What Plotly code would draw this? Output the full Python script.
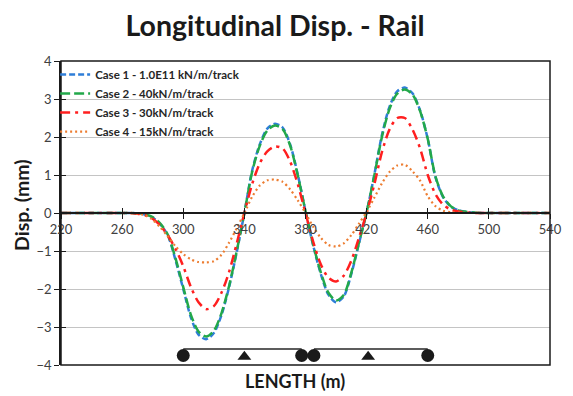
import plotly.graph_objects as go

# ---------------- data ----------------
length_m = [220, 225, 230, 235, 240, 245, 250, 255, 260, 265, 270, 275, 280, 285, 290, 295,
            300, 305, 310, 315, 320, 325, 330, 335, 340, 345, 350, 355, 360, 365, 370, 375,
            380, 385, 390, 395, 400, 405, 410, 415, 420, 425, 430, 435, 440, 445, 450, 455,
            460, 465, 470, 475, 480, 485, 490, 495, 500, 505, 510, 515, 520, 525, 530, 535, 540]

case1 = [0, 0, 0, 0, 0, 0, 0, 0, 0, 0, -0.01, -0.04, -0.12, -0.3, -0.6, -1.25,
         -2.0, -2.75, -3.2, -3.32, -3.16, -2.69, -1.95, -1.03, 0.0, 1.1, 1.8, 2.22,
         2.35, 2.25, 1.8, 1.0, 0.05, -0.85, -1.6, -2.15, -2.35, -2.2, -1.6, -0.8,
         0.02, 1.0, 2.05, 2.8, 3.2, 3.3, 3.15, 2.7, 1.95, 0.95, 0.42, 0.17, 0.07,
         0.03, 0.01, 0, 0, 0, 0, 0, 0, 0, 0, 0, 0]

case2 = [0, 0, 0, 0, 0, 0, 0, 0, 0, 0, -0.01, -0.04, -0.11, -0.28, -0.58, -1.2,
         -1.95, -2.68, -3.12, -3.25, -3.1, -2.64, -1.92, -1.0, 0.0, 1.07, 1.76, 2.17,
         2.3, 2.21, 1.77, 0.98, 0.05, -0.83, -1.56, -2.1, -2.3, -2.16, -1.57, -0.78,
         0.02, 0.98, 2.0, 2.74, 3.14, 3.25, 3.12, 2.68, 1.95, 0.97, 0.44, 0.18, 0.07,
         0.03, 0.01, 0, 0, 0, 0, 0, 0, 0, 0, 0, 0]

case3 = [0, 0, 0, 0, 0, 0, 0, 0, 0, 0, -0.02, -0.06, -0.15, -0.33, -0.6, -0.95,
         -1.4, -1.95, -2.35, -2.53, -2.45, -2.1, -1.55, -0.8, 0.0, 0.75, 1.3, 1.62,
         1.75, 1.7, 1.35, 0.75, 0.0, -0.75, -1.35, -1.7, -1.8, -1.65, -1.25, -0.65,
         0.0, 0.75, 1.6, 2.2, 2.5, 2.5, 2.2, 1.7, 1.0, 0.5, 0.22, 0.09, 0.04,
         0.02, 0.0, 0, 0, 0, 0, 0, 0, 0, 0, 0, 0]

case4 = [0, 0, 0, 0, 0, 0, 0, 0, 0, 0, -0.02, -0.06, -0.18, -0.38, -0.62, -0.88,
         -1.08, -1.22, -1.29, -1.3, -1.27, -1.1, -0.78, -0.4, 0.0, 0.42, 0.72, 0.86,
         0.88, 0.82, 0.62, 0.33, 0.0, -0.36, -0.65, -0.84, -0.88, -0.8, -0.58, -0.28,
         0.03, 0.4, 0.78, 1.08, 1.25, 1.27, 1.1, 0.85, 0.44, 0.18, 0.06, 0.02, 0.01,
         0.0, 0, 0, 0, 0, 0, 0, 0, 0, 0, 0, 0]

series_names = ["Case 1 - 1.0E11 kN/m/track", "Case 2 - 40kN/m/track",
                "Case 3 - 30kN/m/track", "Case 4 - 15kN/m/track"]

x_ticks = [220, 260, 300, 340, 380, 420, 460, 500, 540]
y_ticks = [-4, -3, -2, -1, 0, 1, 2, 3, 4]

# bridge supports drawn under the chart
bearing_x = [300, 377.5, 385.5, 460]
bearing_y = [-3.75, -3.75, -3.75, -3.75]
pier_x = [340, 421]
pier_y = [-3.78, -3.78]
deck_x = [300, 377.5, None, 385.5, 460]
deck_y = [-3.58, -3.58, None, -3.58, -3.58]

# ---------------- figure ----------------
FONT = "Lato"
colors = ["#2F7ED8", "#22A84A", "#FF1F1F", "#ED7D31"]
dashes = ["6px,3px", "10px,4px", "10px,5px,3px,5px", "2px,3px"]
widths = [2.5, 2.5, 2.5, 2.2]
ys = [case1, case2, case3, case4]

fig = go.Figure()
for name, yv, c, d, w in zip(series_names, ys, colors, dashes, widths):
    fig.add_trace(go.Scatter(x=length_m, y=yv, mode="lines", name="<b>" + name + "</b>",
                             line=dict(color=c, dash=d, width=w, shape="spline", smoothing=0.8)))

fig.add_trace(go.Scatter(x=deck_x, y=deck_y, mode="lines", showlegend=False,
                         line=dict(color="#262626", width=1.5), xaxis="x2", yaxis="y2"))
fig.add_trace(go.Scatter(x=bearing_x, y=bearing_y, mode="markers", showlegend=False,
                         marker=dict(symbol="circle", size=13, color="#1a1a1a"), xaxis="x2", yaxis="y2"))
fig.add_trace(go.Scatter(x=pier_x, y=pier_y, mode="markers", showlegend=False,
                         marker=dict(symbol="triangle-up", size=12, color="#1a1a1a"), xaxis="x2", yaxis="y2"))

tickfont = dict(family=FONT, size=13, color="#404040")

# the page body has an 8px margin, so the figure is drawn 8px in from the corner
W, H = 565, 388
fig.update_layout(
    width=W, height=H,
    margin=dict(l=53, r=11, t=53, b=31),
    paper_bgcolor="white", plot_bgcolor="white",
    showlegend=True,
    title=dict(text="<b>Longitudinal Disp. - Rail</b>", x=(275 - 8) / W, xref="container", xanchor="center",
               y=1 - (26 - 8) / H, yref="container", yanchor="middle",
               font=dict(family=FONT, size=28.5, color="#1a1a1a")),
    xaxis=dict(range=[220, 540], tickvals=x_ticks, ticktext=[str(v) for v in x_ticks],
               anchor="free", position=0.5, showline=True, linecolor="#1a1a1a", linewidth=1.5,
               ticks="outside", ticklen=5, tickwidth=1.2, tickcolor="#1a1a1a",
               showgrid=False, zeroline=False, tickfont=tickfont, ticklabeloverflow="allow"),
    xaxis2=dict(range=[220, 540], matches="x", overlaying="x", anchor="free", position=0.5,
                tickvals=x_ticks, showticklabels=False, ticks="inside", ticklen=5,
                tickwidth=1.2, tickcolor="#1a1a1a", showgrid=False, zeroline=False, showline=False),
    yaxis=dict(range=[-4, 4], tickvals=y_ticks, showline=True, linecolor="#1a1a1a", linewidth=1.5,
               ticks="outside", ticklen=5, tickwidth=1.2, tickcolor="#1a1a1a",
               showgrid=True, gridcolor="#C4C4C4", gridwidth=1, zeroline=False, tickfont=tickfont),
    yaxis2=dict(range=[-4, 4], matches="y", overlaying="y", anchor="x", tickvals=y_ticks,
                showticklabels=False, ticks="inside", ticklen=5, tickwidth=1.2, tickcolor="#1a1a1a",
                showgrid=False, zeroline=False, showline=False),
    legend=dict(x=-0.012, y=1.003, xanchor="left", yanchor="top", bgcolor="rgba(255,255,255,0)",
                font=dict(family=FONT, size=11.5, color="#262626"), tracegroupgap=0),
    shapes=[
        dict(type="rect", xref="paper", yref="paper", x0=0.004, x1=0.372, y0=0.76, y1=0.995,
             fillcolor="white", line=dict(width=0), layer="between"),
        dict(type="rect", xref="paper", yref="paper", x0=0, x1=1, y0=0, y1=1,
             line=dict(color="#1a1a1a", width=1.5), layer="above"),
    ],
    annotations=[
        dict(text="<b>Disp. (mm)</b>", xref="paper", yref="paper", x=(20 - 61) / 501, y=(213 - 205) / 304 + 0.5,
             textangle=-90, showarrow=False, xanchor="center", yanchor="middle",
             font=dict(family=FONT, size=19.5, color="#1a1a1a")),
        dict(text="<b>LENGTH (m)</b>", xref="paper", yref="paper", x=(301 - 61) / 501, y=(365 - 381) / 304,
             showarrow=False, xanchor="center", yanchor="middle",
             font=dict(family=FONT, size=18, color="#1a1a1a")),
    ],
)

fig.write_html("out.html")
